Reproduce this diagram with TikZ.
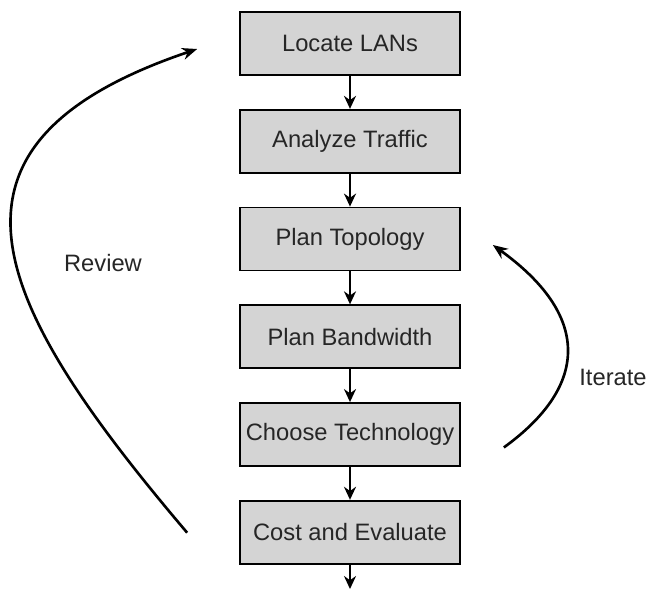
\documentclass[tikz,border=0pt]{standalone}
\usepackage{fontspec}
\setmainfont{Liberation Sans}
\usetikzlibrary{positioning,arrows.meta,calc}
\definecolor{figgrey}{gray}{0.83}
\definecolor{figtext}{gray}{0.15}
\tikzset{
  fig/.style={font=\fontsize{13.5}{16}\selectfont,text=figtext},
  stepbox/.style={draw,line width=1pt,fill=figgrey,minimum height=1.26cm,
                  minimum width=4.4cm,align=center,inner sep=2pt},
  ln/.style={-{Stealth[length=2.6mm,width=2.4mm]},line width=1.6pt},
  loopln/.style={-{Stealth[length=3mm,width=2.4mm]},line width=1.5pt},
  lbl/.style={inner sep=1.5pt},
}

\begin{document}
\begin{tikzpicture}[fig,x=0.02cm,y=-0.02cm,node distance=0.66cm]

\useasboundingbox (0,0) rectangle (649,589);

\node[stepbox] (lans) at (350,43.5) {Locate LANs};
\node[stepbox,below=of lans] (traffic) {Analyze Traffic};
\node[stepbox,below=of traffic] (topo) {Plan Topology};
\node[stepbox,below=of topo] (bw) {Plan Bandwidth};
\node[stepbox,below=of bw] (tech) {Choose Technology};
\node[stepbox,below=of tech] (cost) {Cost and Evaluate};
\coordinate (out) at (350,589);

\draw[ln] (lans) -- (traffic);
\draw[ln] (traffic) -- (topo);
\draw[ln] (topo) -- (bw);
\draw[ln] (bw) -- (tech);
\draw[ln] (tech) -- (cost);
\draw[ln] (cost) -- (out);

% review loop, left side
\coordinate (rvfrom) at ($(cost.west)+(-52,0.5)$);
\coordinate (rvto) at ($(lans.west)+(-42,5.5)$);
\draw[loopln] (rvfrom) .. controls (-7,304) and (-87,145) .. (rvto);
\node[lbl] (review) at (103,263) {Review};

% iterate loop, right side
\coordinate (itfrom) at ($(tech.east)+(43,13)$);
\coordinate (itto) at ($(topo.east)+(32,6)$);
\draw[loopln] (itfrom) .. controls (590,385) and (590,315) .. (itto);
\node[lbl] (iterate) at (613,377) {Iterate};

\end{tikzpicture}
\end{document}
